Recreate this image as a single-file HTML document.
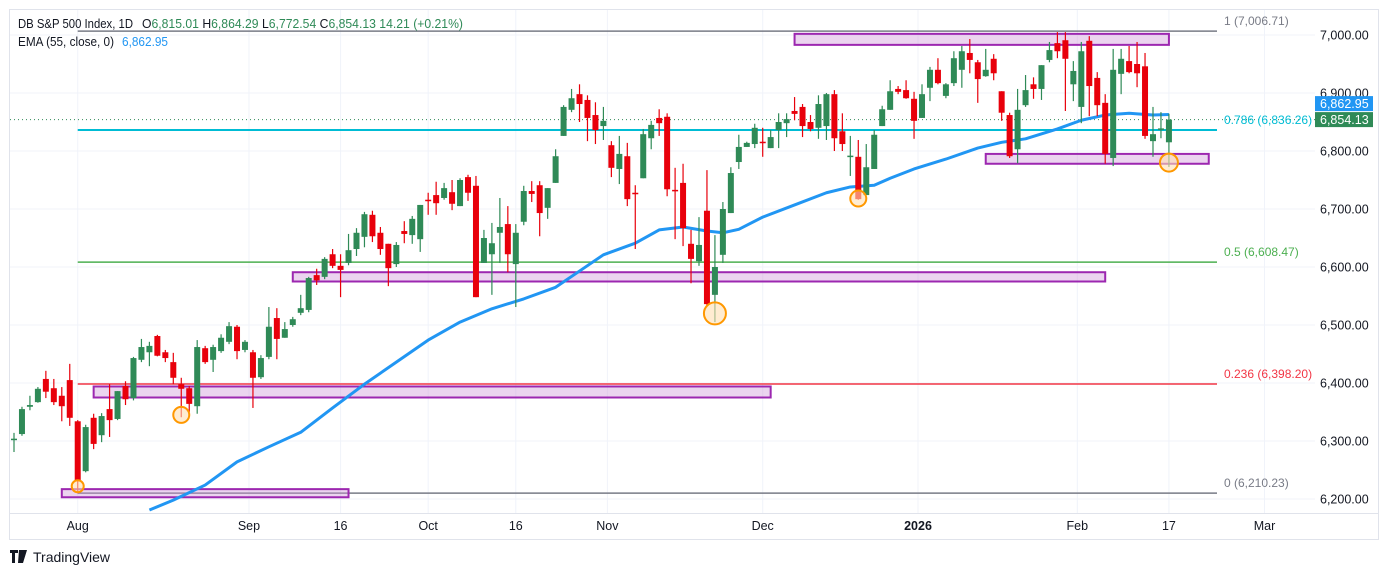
<!DOCTYPE html>
<html><head><meta charset="utf-8">
<style>
html,body{margin:0;padding:0;background:#fff;}
body{width:1388px;height:575px;overflow:hidden;font-family:"Liberation Sans",sans-serif;}
svg{display:block;}
</style></head>
<body>
<svg id="chart" width="1388" height="575" xmlns="http://www.w3.org/2000/svg" font-family="Liberation Sans, sans-serif">
  <rect x="9.5" y="9.5" width="1369" height="530" fill="#fff" stroke="#e0e3eb"/>
  <g id="grid"></g>
  <g id="fib"></g>
  <g id="boxes"></g>
  <g id="ema"></g>
  <g id="candles"></g>
  <g id="circles"></g>
  <g id="axes"></g>
  <line x1="10" y1="513.5" x2="1378" y2="513.5" stroke="#e0e3eb"/>
  <g font-size="12.5">
    <text x="18" y="28" fill="#131722" textLength="115" lengthAdjust="spacingAndGlyphs">DB S&amp;P 500 Index, 1D</text>
    <text x="142" y="28" fill="#131722" textLength="321" lengthAdjust="spacingAndGlyphs">O<tspan fill="#2f8a57">6,815.01</tspan>  H<tspan fill="#2f8a57">6,864.29</tspan>  L<tspan fill="#2f8a57">6,772.54</tspan>  C<tspan fill="#2f8a57">6,854.13</tspan>  <tspan fill="#2f8a57">14.21 (+0.21%)</tspan></text>
    <text x="18" y="46" fill="#131722" textLength="96" lengthAdjust="spacingAndGlyphs">EMA (55, close, 0)</text>
    <text x="122" y="46" fill="#2196f3" textLength="46" lengthAdjust="spacingAndGlyphs">6,862.95</text>
  </g>
  <g>
    <path d="M10 550h8v3h-3v10h-3v-10h-2z M19 550h4l-2 13h-3z M23 550h4l-4 13h-2z" fill="#131722"/>
    <text x="33" y="562" font-size="14" fill="#131722">TradingView</text>
  </g>
</svg>
<script>
const opens=[6303,6312,6359,6367,6407,6391,6378,6405,6334,6248,6340,6310,6355,6338,6395,6374,6440,6453,6481,6453,6436,6398,6391,6360,6460,6440,6455,6471,6497,6457,6453,6410,6445,6512,6478,6500,6521,6526,6586,6583,6622,6602,6607,6631,6652,6690,6659,6640,6605,6662,6655,6648,6716,6724,6719,6729,6705,6755,6740,6607,6622,6659,6674,6605,6678,6731,6741,6702,6745,6826,6871,6898,6888,6862,6843,6810,6769,6791,6728,6753,6822,6857,6859,6733,6745,6640,6610,6697,6552,6621,6693,6781,6807,6812,6816,6805,6836,6848,6869,6876,6850,6840,6843,6898,6834,6791,6790,6724,6769,6843,6871,6907,6905,6890,6857,6909,6940,6895,6917,6940,6969,6953,6929,6959,6903,6862,6803,6879,6915,6907,6957,6986,6991,6915,6876,6990,6926,6883,6788,6933,6955,6950,6946,6817,6838,6815.01];
const highs=[6314,6359,6378,6393,6421,6407,6393,6433,6336,6328,6347,6348,6398,6386,6403,6445,6476,6471,6483,6457,6452,6409,6395,6474,6464,6466,6484,6505,6500,6474,6457,6448,6531,6529,6505,6514,6552,6583,6597,6617,6631,6622,6657,6667,6695,6697,6669,6640,6643,6679,6688,6707,6728,6747,6745,6750,6753,6759,6757,6664,6676,6719,6705,6674,6740,6748,6748,6736,6803,6879,6907,6915,6896,6884,6876,6817,6826,6814,6741,6838,6852,6872,6865,6771,6778,6664,6686,6767,6655,6712,6772,6828,6816,6847,6840,6836,6865,6865,6893,6881,6862,6896,6900,6905,6865,6826,6819,6812,6836,6878,6922,6912,6922,6902,6915,6945,6960,6917,6972,6981,6993,6957,6976,6967,6903,6866,6907,6931,6927,6948,6988,7005,7005,6955,6988,6998,6936,6898,6976,6976,6981,6988,6969,6876,6867,6864.29];
const lows=[6281,6309,6353,6366,6374,6362,6334,6326,6210,6246,6286,6298,6307,6336,6362,6370,6436,6429,6446,6436,6398,6341,6350,6347,6433,6419,6452,6467,6441,6453,6357,6407,6441,6441,6478,6497,6517,6522,6569,6579,6598,6548,6603,6619,6634,6643,6621,6567,6600,6641,6640,6626,6690,6690,6716,6698,6705,6714,6548,6607,6552,6607,6591,6531,6672,6712,6653,6683,6745,6826,6867,6850,6817,6812,6819,6755,6743,6705,6631,6753,6803,6826,6722,6648,6636,6572,6602,6533,6505,6607,6693,6769,6807,6805,6790,6805,6805,6824,6853,6824,6834,6821,6819,6800,6800,6757,6716,6724,6769,6843,6871,6898,6890,6821,6857,6886,6915,6891,6912,6909,6934,6883,6928,6922,6852,6788,6779,6876,6890,6888,6953,6960,6869,6886,6848,6860,6860,6778,6774,6898,6934,6910,6821,6790,6822,6772.54];
const closes=[6304,6355,6362,6390,6385,6367,6360,6340,6231,6324,6295,6343,6336,6386,6372,6443,6462,6464,6447,6443,6409,6390,6364,6462,6436,6462,6478,6498,6455,6471,6409,6443,6497,6476,6493,6510,6529,6581,6577,6614,6602,6595,6629,6659,6691,6653,6631,6598,6638,6657,6683,6707,6714,6710,6736,6709,6750,6728,6548,6650,6641,6669,6622,6659,6731,6726,6693,6736,6791,6876,6891,6881,6857,6836,6852,6771,6795,6717,6726,6829,6845,6848,6734,6731,6667,6614,6638,6536,6600,6700,6762,6807,6814,6840,6814,6824,6850,6855,6864,6843,6838,6881,6898,6822,6812,6792,6717,6772,6828,6872,6903,6902,6891,6852,6898,6940,6917,6915,6960,6972,6957,6924,6940,6934,6866,6791,6871,6905,6907,6948,6974,6972,6959,6938,6972,6912,6879,6795,6940,6959,6936,6934,6826,6829,6839,6854.13];
const emaIndex=[17,20,24,28,32,36,40,44,48,52,56,60,64,68,71,74,78,81,84,87,89,91,94,98,102,105,108,110,113,117,121,124,127,131,134,137,140,143,145];
const emaValues=[6181,6198,6224,6264,6290,6315,6357,6398,6436,6474,6505,6528,6545,6565,6593,6621,6641,6664,6669,6662,6659,6665,6686,6707,6728,6738,6741,6753,6769,6786,6805,6815,6821,6838,6853,6862,6865,6862,6862.95];
const priceTicks=[6200,6300,6400,6500,6600,6700,6800,6900,7000];
const timeLabels=["Aug","Sep","16","Oct","16","Nov","Dec","2026","Feb","17","Mar"];
const timeIndex=[8,29.5,41,52,63,74.5,94,113.5,133.5,145,157];
const fibRatios=["1","0.786","0.5","0.236","0"];
const fibPrices=[7006.71,6836.26,6608.47,6398.20,6210.23];
const fibColors=["#787b86","#00bcd4","#4caf50","#f23645","#787b86"];
const zoneLow=[6203,6375,6575,6983,6778];
const zoneHigh=[6217,6394,6591,7002,6795];
const zoneStart=[6,10,35,98,122];
const zoneEnd=[42,95,137,145,150];
const circleIndex=[8,21,88,106,145];
const circlePrice=[6222,6345,6520,6718,6780];
const circleRadius=[6,8,11,8,9];

const NS="http://www.w3.org/2000/svg";
const X=i=>14+7.965*i;
const Y=v=>35+(7000-v)*0.58;
function mk(tag,attrs,parent){const e=document.createElementNS(NS,tag);for(const k in attrs)e.setAttribute(k,attrs[k]);parent.appendChild(e);return e;}
const grid=document.getElementById('grid'),axes=document.getElementById('axes');
priceTicks.forEach(p=>{
  const l=mk('line',{x1:10,x2:1315,y1:Y(p),y2:Y(p),stroke:'#f0f3fa'},grid);
  
  
  const t=mk('text',{x:1320,y:Y(p)+4.5,'font-size':12.5,fill:'#131722'},axes);
  t.textContent=p.toLocaleString('en-US',{minimumFractionDigits:2});
  
  
});
timeLabels.forEach((s,k)=>{
  const x=X(timeIndex[k]);
  const l=mk('line',{x1:x,x2:x,y1:10,y2:513,stroke:'#f0f3fa'},grid);
  
  
  const t=mk('text',{x:x,y:530,'font-size':12.5,fill:'#131722','text-anchor':'middle','font-weight':s==="2026"?'bold':'normal'},axes);
  t.textContent=s;
  
  
});
const cl=mk('line',{x1:10,x2:1315,y1:Y(closes[closes.length-1]),y2:Y(closes[closes.length-1]),stroke:'#2f8a57','stroke-dasharray':'1 3'},grid);


const fib=document.getElementById('fib');
fibPrices.forEach((p,k)=>{
  const l=mk('line',{x1:X(8),x2:1217,y1:Y(p),y2:Y(p),stroke:fibColors[k],'stroke-width':k===1?2:1.5},fib);
  
  
  const t=mk('text',{x:1224,y:Y(p)-6,'font-size':12,fill:fibColors[k]},fib);
  t.textContent=fibRatios[k]+" ("+p.toLocaleString('en-US',{minimumFractionDigits:2})+")";
  
  
});
const boxes=document.getElementById('boxes');
zoneLow.forEach((lo,k)=>{
  const r=mk('rect',{x:X(zoneStart[k]),y:Y(zoneHigh[k]),width:X(zoneEnd[k])-X(zoneStart[k]),height:Y(lo)-Y(zoneHigh[k]),fill:'rgba(206,147,216,0.4)',stroke:'#9c27b0','stroke-width':2},boxes);
  
  
});
const ema=document.getElementById('ema');
const ep=mk('polyline',{points:emaIndex.map((i,k)=>X(i)+','+Y(emaValues[k])).join(' '),fill:'none',stroke:'#2196f3','stroke-width':3,'stroke-linejoin':'round'},ema);


const cg=document.getElementById('candles');
opens.forEach((o,i)=>{
  const c=closes[i],up=c>=o,col=up?'#2f8a57':'#e8000b',x=X(i);
  const g=mk('g',{},cg);
  
  
  mk('line',{x1:x,x2:x,y1:Y(highs[i]),y2:Y(lows[i]),stroke:col,'stroke-width':1.2},g);
  const top=Y(Math.max(o,c)),h=Math.max(1.5,Math.abs(Y(o)-Y(c)));
  mk('rect',{x:x-3,y:top,width:6,height:h,fill:col},g);
});
const cc=document.getElementById('circles');
circleIndex.forEach((i,k)=>{
  const e=mk('circle',{cx:X(i),cy:Y(circlePrice[k]),r:circleRadius[k],fill:'rgba(255,224,178,0.6)',stroke:'#ff9800','stroke-width':2},cc);
  
  
});
const lastEma=emaValues[emaValues.length-1],lastC=closes[closes.length-1];
const cTop=Y(lastC)-7.5;
const b2=mk('rect',{x:1315,y:cTop,width:58,height:15,fill:'#2f8a57'},axes);


const t2=mk('text',{x:1320,y:cTop+12,'font-size':12.5,fill:'#fff'},axes);
t2.textContent=lastC.toLocaleString('en-US',{minimumFractionDigits:2});


const eTop=Math.min(Y(lastEma)-7.5,cTop-16);
const b1=mk('rect',{x:1315,y:eTop,width:58,height:15,fill:'#2196f3'},axes);


const t1=mk('text',{x:1320,y:eTop+12,'font-size':12.5,fill:'#fff'},axes);
t1.textContent=lastEma.toLocaleString('en-US',{minimumFractionDigits:2});


</script>
</body></html>
